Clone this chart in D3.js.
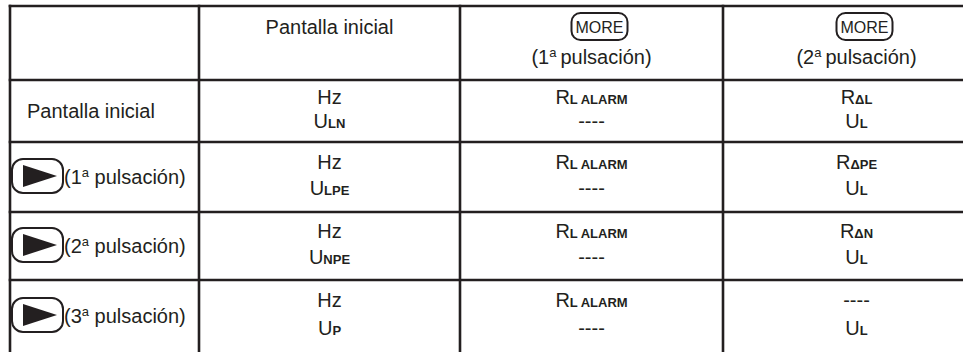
<!DOCTYPE html>
<html><head><meta charset="utf-8">
<script src="https://cdn.jsdelivr.net/npm/d3@7"></script>
<style>html,body{margin:0;padding:0;background:#fff;overflow:hidden}</style>
</head><body>
<svg id="c" width="963" height="352"></svg>
<script>
// ---- data ----
const columnKeys = ["label", "inicial", "more1", "more2"];
const headerTitle = "Pantalla inicial";
const headerButton = "MORE";
const headerPress = ["1", "2"];
const pressWord = "pulsación";
const rowKeys = ["inicial", "p1", "p2", "p3"];
const rowFirstLabel = "Pantalla inicial";
const rowPress = ["1", "2", "3"];
const colInicial = [["Hz", "U|LN"], ["Hz", "U|LPE"], ["Hz", "U|NPE"], ["Hz", "U|P"]];
const colMore1 = [["R|L ALARM", "----"], ["R|L ALARM", "----"], ["R|L ALARM", "----"], ["R|L ALARM", "----"]];
const colMore2 = [["R|ΔL", "U|L"], ["R|ΔPE", "U|L"], ["R|ΔN", "U|L"], ["----", "U|L"]];

// ---- layout ----
const W = 963, H = 352;
const xEdges = [10, 199, 460, 723, 990];
const yEdges = [6, 80, 142, 212, 280, 358];
const ink = "#231f20";
const font = "'Liberation Sans', Arial, Helvetica, sans-serif";

const svg = d3.select("#c");
svg.append("rect").attr("width", W).attr("height", H).attr("fill", "#fff");

const xLeft = d3.scaleOrdinal().domain(columnKeys).range(xEdges.slice(0, -1));
const xRight = d3.scaleOrdinal().domain(columnKeys).range(xEdges.slice(1));
const xMid = k => (xLeft(k) + xRight(k)) / 2;
const allRows = ["header"].concat(rowKeys);
const yTop = d3.scaleOrdinal().domain(allRows).range(yEdges.slice(0, -1));
const yBot = d3.scaleOrdinal().domain(allRows).range(yEdges.slice(1));
const visBot = rk => Math.min(yBot(rk), H);

// grid
const g = svg.append("g");
g.selectAll("line.h").data(yEdges).join("line")
  .attr("x1", xEdges[0] - 1.3).attr("x2", xEdges[xEdges.length - 1])
  .attr("y1", d => d).attr("y2", d => d)
  .attr("stroke", ink).attr("stroke-width", 2.6);
g.selectAll("line.v").data(xEdges).join("line")
  .attr("y1", yEdges[0] - 1.3).attr("y2", yEdges[yEdges.length - 1])
  .attr("x1", d => d).attr("x2", d => d)
  .attr("stroke", ink).attr("stroke-width", 2.6);

function pressText(sel, n, gap) {
  sel.append("tspan").text("(" + n);
  sel.append("tspan").attr("font-size", 13).attr("dy", -7).text("a");
  sel.append("tspan").attr("dy", 7).text(gap + pressWord + ")");
}

// header
svg.append("text").attr("x", xMid("inicial")).attr("y", 34)
  .attr("text-anchor", "middle").attr("font-family", font).attr("font-size", 20).attr("fill", ink)
  .text(headerTitle);
["more1", "more2"].forEach((k, i) => {
  const cx = xMid(k) + 8;
  svg.append("rect").attr("x", cx - 28).attr("y", 13).attr("width", 56).attr("height", 27)
    .attr("rx", 9).attr("fill", "none").attr("stroke", ink).attr("stroke-width", 2);
  svg.append("text").attr("x", cx).attr("y", 32.5).attr("text-anchor", "middle")
    .attr("font-family", font).attr("font-size", 16).attr("fill", ink).text(headerButton);
  const t = svg.append("text").attr("x", xMid(k)).attr("y", 64).attr("text-anchor", "middle")
    .attr("font-family", font).attr("font-size", 20).attr("fill", ink);
  pressText(t, headerPress[i], "\u2009");
});

// row labels
rowKeys.forEach((rk, i) => {
  const mid = (yTop(rk) + visBot(rk)) / 2;
  if (i === 0) {
    svg.append("text").attr("x", 27).attr("y", mid + 7)
      .attr("font-family", font).attr("font-size", 20).attr("fill", ink).text(rowFirstLabel);
  } else {
    const bc = mid - 1;
    svg.append("rect").attr("x", 12).attr("y", bc - 17).attr("width", 51).attr("height", 34)
      .attr("rx", 11).attr("fill", "none").attr("stroke", ink).attr("stroke-width", 2);
    svg.append("path").attr("d", `M23,${bc - 11}L57,${bc}L23,${bc + 11}Z`).attr("fill", ink);
    const t = svg.append("text").attr("x", 64).attr("y", mid + 7)
      .attr("font-family", font).attr("font-size", 20).attr("fill", ink);
    pressText(t, rowPress[i - 1], " ");
  }
});

// cells
function cell(str, x, y) {
  const t = svg.append("text").attr("x", x).attr("y", y).attr("text-anchor", "middle")
    .attr("font-family", font).attr("font-size", 20).attr("fill", ink);
  if (str.indexOf("|") >= 0) {
    const [m, s] = str.split("|");
    t.append("tspan").text(m);
    t.append("tspan").attr("font-size", 13).attr("font-weight", "bold").text(s);
  } else {
    t.text(str);
  }
}
const cols = [["inicial", colInicial], ["more1", colMore1], ["more2", colMore2]];
cols.forEach(([ck, vals]) => {
  rowKeys.forEach((rk, i) => {
    const top = yTop(rk);
    const h = visBot(rk) - top;
    cell(vals[i][0], xMid(ck), top + h * 0.28 + 7);
    cell(vals[i][1], xMid(ck), top + h * 0.66 + 7);
  });
});
</script>
</body></html>
